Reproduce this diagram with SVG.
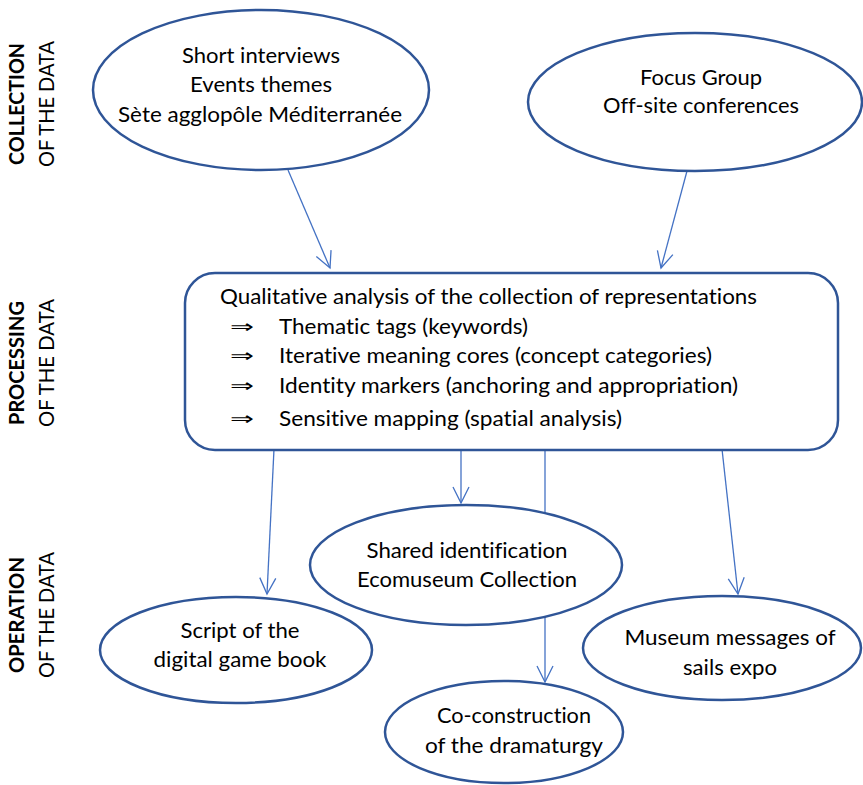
<svg xmlns="http://www.w3.org/2000/svg" width="863" height="785" viewBox="0 0 863 785">
<defs>
<style>
.n{fill:#fff;stroke:#2F5597;stroke-width:2.5}
.c{fill:none;stroke:#4472C4;stroke-width:1.3}
.t{font-family:Lato,"Open Sans","Liberation Sans",sans-serif;font-size:21px;fill:#000;font-variant-ligatures:none;font-feature-settings:"liga" 0}
.m{text-anchor:middle}
.b{font-weight:bold}
.ar{font-family:"DejaVu Sans","Liberation Serif",serif;font-size:18px;fill:#000}
</style>
<marker id="ah" viewBox="0 0 20 20" refX="18" refY="10" markerWidth="20" markerHeight="20" markerUnits="userSpaceOnUse" orient="auto">
<path d="M2,2 L18,10 L2,18" fill="none" stroke="#4472C4" stroke-width="1.3"/>
</marker>
</defs>
<rect width="863" height="785" fill="#fff"/>

<g id="side-labels" class="t">
<text class="b" transform="translate(24,104) rotate(-90)" text-anchor="middle" textLength="122" lengthAdjust="spacingAndGlyphs">COLLECTION</text>
<text transform="translate(54,104) rotate(-90)" text-anchor="middle" textLength="126" lengthAdjust="spacingAndGlyphs">OF THE DATA</text>
<text class="b" transform="translate(24,363) rotate(-90)" text-anchor="middle" textLength="124" lengthAdjust="spacingAndGlyphs">PROCESSING</text>
<text transform="translate(54,363) rotate(-90)" text-anchor="middle" textLength="128" lengthAdjust="spacingAndGlyphs">OF THE DATA</text>
<text class="b" transform="translate(24,615) rotate(-90)" text-anchor="middle" textLength="116" lengthAdjust="spacingAndGlyphs">OPERATION</text>
<text transform="translate(54,615) rotate(-90)" text-anchor="middle" textLength="126" lengthAdjust="spacingAndGlyphs">OF THE DATA</text>
</g>

<g id="connectors">
<line class="c" x1="288" y1="170" x2="330" y2="268" marker-end="url(#ah)"/>
<line class="c" x1="687" y1="171" x2="661" y2="268" marker-end="url(#ah)"/>
<line class="c" x1="274" y1="449" x2="267" y2="594" marker-end="url(#ah)"/>
<line class="c" x1="461" y1="449" x2="461" y2="503" marker-end="url(#ah)"/>
<line class="c" x1="545" y1="449" x2="545" y2="682" marker-end="url(#ah)"/>
<line class="c" x1="722" y1="449" x2="738" y2="594" marker-end="url(#ah)"/>
</g>

<g id="n-interviews">
<ellipse class="n" cx="261" cy="90" rx="168" ry="80"/>
<text class="t m" x="261" y="63" textLength="158" lengthAdjust="spacingAndGlyphs">Short interviews</text>
<text class="t m" x="261" y="92" textLength="142" lengthAdjust="spacingAndGlyphs">Events themes</text>
<text class="t m" x="260" y="122" textLength="284" lengthAdjust="spacingAndGlyphs">Sète agglopôle Méditerranée</text>
</g>

<g id="n-focus">
<ellipse class="n" cx="695" cy="102" rx="167" ry="69"/>
<text class="t m" x="701" y="85" textLength="122" lengthAdjust="spacingAndGlyphs">Focus Group</text>
<text class="t m" x="701" y="113" textLength="196" lengthAdjust="spacingAndGlyphs">Off-site conferences</text>
</g>

<g id="n-processing">
<rect class="n" x="185" y="273" width="653" height="177" rx="30" ry="30"/>
<text class="t" x="220" y="304" textLength="537" lengthAdjust="spacingAndGlyphs">Qualitative analysis of the collection of representations</text>
<text class="ar" x="230" y="333" textLength="24" lengthAdjust="spacingAndGlyphs">⇒</text><text class="t" x="279" y="334" textLength="249" lengthAdjust="spacingAndGlyphs">Thematic tags (keywords)</text>
<text class="ar" x="230" y="362" textLength="24" lengthAdjust="spacingAndGlyphs">⇒</text><text class="t" x="279" y="363" textLength="433" lengthAdjust="spacingAndGlyphs">Iterative meaning cores (concept categories)</text>
<text class="ar" x="230" y="392" textLength="24" lengthAdjust="spacingAndGlyphs">⇒</text><text class="t" x="279" y="393" textLength="459" lengthAdjust="spacingAndGlyphs">Identity markers (anchoring and appropriation)</text>
<text class="ar" x="230" y="425" textLength="24" lengthAdjust="spacingAndGlyphs">⇒</text><text class="t" x="279" y="426" textLength="343" lengthAdjust="spacingAndGlyphs">Sensitive mapping (spatial analysis)</text>
</g>

<g id="n-shared">
<ellipse class="n" cx="466" cy="565" rx="156" ry="60"/>
<text class="t m" x="467" y="558" textLength="201" lengthAdjust="spacingAndGlyphs">Shared identification</text>
<text class="t m" x="467" y="587" textLength="220" lengthAdjust="spacingAndGlyphs">Ecomuseum Collection</text>
</g>

<g id="n-script">
<ellipse class="n" cx="236" cy="650" rx="136" ry="53"/>
<text class="t m" x="240" y="638" textLength="119" lengthAdjust="spacingAndGlyphs">Script of the</text>
<text class="t m" x="240" y="667" textLength="173" lengthAdjust="spacingAndGlyphs">digital game book</text>
</g>

<g id="n-museum">
<ellipse class="n" cx="722" cy="648" rx="139" ry="52"/>
<text class="t m" x="730" y="645" textLength="211" lengthAdjust="spacingAndGlyphs">Museum messages of</text>
<text class="t m" x="730" y="675" textLength="94" lengthAdjust="spacingAndGlyphs">sails expo</text>
</g>

<g id="n-coconstruction">
<ellipse class="n" cx="504" cy="732" rx="119" ry="51"/>
<text class="t m" x="514" y="723" textLength="154" lengthAdjust="spacingAndGlyphs">Co-construction</text>
<text class="t m" x="514" y="753" textLength="178" lengthAdjust="spacingAndGlyphs">of the dramaturgy</text>
</g>
</svg>
